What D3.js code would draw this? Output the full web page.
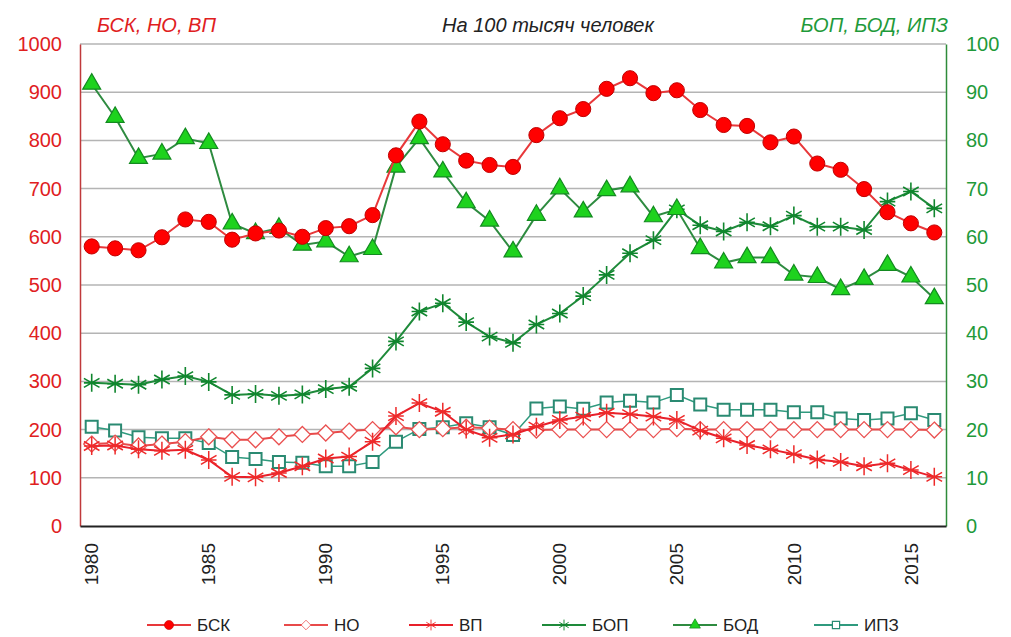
<!DOCTYPE html>
<html>
<head>
<meta charset="utf-8">
<script src="https://cdn.jsdelivr.net/npm/d3@7"></script>
<style>
  body { margin: 0; background: #fff; }
  svg { font-family: "Liberation Sans", Arial, sans-serif; }
</style>
</head>
<body>
<svg width="1011" height="637"></svg>
<script>
// years 1980..2016
const years = d3.range(1980, 2017);
const yearTicks = [1980, 1985, 1990, 1995, 2000, 2005, 2010, 2015];
const leftTicks = d3.range(0, 1001, 100);
const rightTicks = d3.range(0, 101, 10);

// left axis series
const bsk = [580, 576, 572, 599, 636, 631, 594, 607, 613, 600, 618, 622, 645, 769, 839, 792, 758, 749, 745, 811,
  846, 865, 907, 929, 898, 904, 863, 832, 830, 796, 808, 752, 739, 699, 651, 628, 609];
const no = [170, 172, 166, 170, 175, 185, 179, 179, 185, 190, 193, 197, 200, 206, 200, 202, 205, 203, 200, 199,
  200, 200, 200, 200, 200, 202, 200, 200, 200, 200, 200, 200, 200, 200, 200, 200, 199];
const vp = [166, 167, 159, 156, 158, 137, 102, 101, 110, 124, 140, 144, 175, 228, 255, 237, 200, 183, 190, 206,
  220, 227, 235, 232, 227, 220, 198, 182, 168, 159, 149, 138, 133, 124, 130, 116, 102];
// right axis series
const bop = [29.7, 29.5, 29.3, 30.4, 31.1, 29.9, 27.2, 27.4, 27.0, 27.3, 28.4, 28.9, 32.7, 38.3, 44.5, 46.2, 42.3, 39.3, 38.0, 41.8,
  44.1, 47.7, 52.1, 56.6, 59.3, 65.7, 62.4, 61.1, 63.0, 62.2, 64.4, 62.1, 62.1, 61.4, 67.3, 69.4, 65.9];
const bod = [91.7, 84.8, 76.3, 77.2, 80.4, 79.4, 62.7, 60.7, 61.8, 58.3, 59.0, 55.9, 57.4, 74.5, 80.4, 73.5, 67.1, 63.3, 56.9, 64.5,
  70.0, 65.2, 69.6, 70.4, 64.2, 65.7, 57.6, 54.6, 55.7, 55.7, 52.1, 51.6, 49.1, 51.2, 54.1, 51.7, 47.2];
const ipz = [20.6, 19.8, 18.4, 18.2, 18.2, 17.2, 14.3, 13.9, 13.3, 13.1, 12.4, 12.4, 13.3, 17.5, 20.1, 20.5, 21.3, 20.5, 18.9, 24.4,
  24.8, 24.3, 25.6, 26.0, 25.6, 27.2, 25.2, 24.1, 24.1, 24.1, 23.6, 23.6, 22.3, 22.0, 22.3, 23.4, 22.0];

const svg = d3.select('svg');
const plotL = 80, plotR = 946, plotT = 44, plotB = 526;

const x = d3.scaleBand().domain(years).range([plotL, plotR]);
const cx = (yr) => x(yr) + x.bandwidth() / 2;
const yL = d3.scaleLinear().domain([0, 1000]).range([plotB, plotT]);
const yR = d3.scaleLinear().domain([0, 100]).range([plotB, plotT]);

// grid
svg.append('g')
  .selectAll('line')
  .data(leftTicks.filter(d => d > 0))
  .enter()
  .append('line')
    .attr('x1', plotL).attr('x2', plotR)
    .attr('y1', d => yL(d)).attr('y2', d => yL(d))
    .attr('stroke', '#b4b4b4')
    .attr('stroke-width', 1.5);

// axes
const gL = svg.append('g')
  .attr('transform', `translate(${plotL},0)`)
  .call(d3.axisLeft(yL).tickValues(leftTicks).tickFormat(d3.format('d')).tickSize(0).tickPadding(18));
gL.select('.domain').attr('stroke', '#c0393b').attr('stroke-width', 1.5);
gL.selectAll('text').attr('fill', '#e0201e').style('font-size', '20px');

const gR = svg.append('g')
  .attr('transform', `translate(${plotR},0)`)
  .call(d3.axisRight(yR).tickValues(rightTicks).tickSize(0).tickPadding(20));
gR.select('.domain').attr('stroke', '#2e8b3a').attr('stroke-width', 1.5);
gR.selectAll('text').attr('fill', '#1f9a3a').style('font-size', '20px');

const gB = svg.append('g')
  .attr('transform', `translate(0,${plotB})`)
  .call(d3.axisBottom(x).tickValues(yearTicks).tickSize(0));
gB.select('.domain').attr('stroke', '#222').attr('stroke-width', 2);
gB.selectAll('text')
  .attr('transform', 'rotate(-90)')
  .attr('x', -17).attr('y', 0).attr('dy', '0.35em')
  .attr('text-anchor', 'end')
  .attr('fill', '#222')
  .style('font-size', '19px');

// markers
function star(s) {
  const p = d3.path();
  [0, 60, 120].forEach(a => {
    const r = a * Math.PI / 180;
    p.moveTo(-s * Math.sin(r), -s * Math.cos(r));
    p.lineTo(s * Math.sin(r), s * Math.cos(r));
  });
  p.moveTo(-s * 0.866, 0); p.lineTo(s * 0.866, 0);
  return p.toString();
}
const shapes = {
  circle: d3.symbol().type(d3.symbolCircle).size(180)(),
  diamond: 'M0,-8L8,0L0,8L-8,0Z',
  star: star(9),
  triangle: d3.symbol().type(d3.symbolTriangle).size(140)(),
  square: 'M-6,-6H6V6H-6Z'
};

const series = [
  { name: 'БСК', data: bsk, y: yL, line: '#e8383a', lw: 2, shape: 'circle', fill: '#ff0000', stroke: '#c00000', sw: 1 },
  { name: 'НО', data: no, y: yL, line: '#e84a4a', lw: 2, shape: 'diamond', fill: '#fff', stroke: '#ea5050', sw: 1.3 },
  { name: 'ВП', data: vp, y: yL, line: '#e8202a', lw: 2, shape: 'star', fill: 'none', stroke: '#ee2a2a', sw: 1.5 },
  { name: 'БОП', data: bop, y: yR, line: '#1e8a3a', lw: 2, shape: 'star', fill: 'none', stroke: '#10862e', sw: 1.6 },
  { name: 'БОД', data: bod, y: yR, line: '#2e8b40', lw: 2, shape: 'triangle', fill: '#1ed21e', stroke: '#138a20', sw: 1.2 },
  { name: 'ИПЗ', data: ipz, y: yR, line: '#2f9a7e', lw: 1.5, shape: 'square', fill: '#fff', stroke: '#2a8a72', sw: 2 }
];
const drawOrder = ['ИПЗ', 'НО', 'ВП', 'БОП', 'БОД', 'БСК'];

drawOrder.forEach(nm => {
  const s = series.find(d => d.name === nm);
  const g = svg.append('g').attr('class', 'series');
  const line = d3.line().x((d, i) => cx(years[i])).y(d => s.y(d));
  g.append('path')
    .attr('d', line(s.data))
    .attr('fill', 'none')
    .attr('stroke', s.line)
    .attr('stroke-width', s.lw);
  g.selectAll('.mk')
    .data(s.data)
    .enter()
    .append('path')
      .attr('transform', (d, i) => `translate(${cx(years[i])},${s.y(d)})`)
      .attr('d', shapes[s.shape])
      .attr('fill', s.fill)
      .attr('stroke', s.stroke)
      .attr('stroke-width', s.sw);
});

// titles
svg.append('text').attr('x', 548).attr('y', 32).attr('text-anchor', 'middle')
  .style('font-size', '20px').style('font-style', 'italic').attr('fill', '#222')
  .text('На 100 тысяч человек');
svg.append('text').attr('x', 97).attr('y', 32)
  .style('font-size', '20px').style('font-style', 'italic').attr('fill', '#e0201e')
  .text('БСК, НО, ВП');
svg.append('text').attr('x', 948).attr('y', 32).attr('text-anchor', 'end')
  .style('font-size', '20px').style('font-style', 'italic').attr('fill', '#1f9a3a')
  .text('БОП, БОД, ИПЗ');

// legend
const legendX = [147, 284, 409, 542, 673, 814];
const legY = 625;
const leg = svg.append('g').selectAll('g')
  .data(series)
  .enter()
  .append('g')
    .attr('transform', (d, i) => `translate(${legendX[i]},${legY})`);
leg.append('line')
  .attr('x1', 0).attr('x2', 44)
  .attr('stroke', d => d.line).attr('stroke-width', 2);
leg.append('path')
  .attr('transform', 'translate(22,0) scale(0.6)')
  .attr('d', d => shapes[d.shape])
  .attr('fill', d => d.fill)
  .attr('stroke', d => d.stroke)
  .attr('stroke-width', d => d.sw);
leg.append('text')
  .attr('x', 50).attr('dy', '0.35em')
  .style('font-size', '17px').attr('fill', '#222')
  .text(d => d.name);
</script>
</body>
</html>
